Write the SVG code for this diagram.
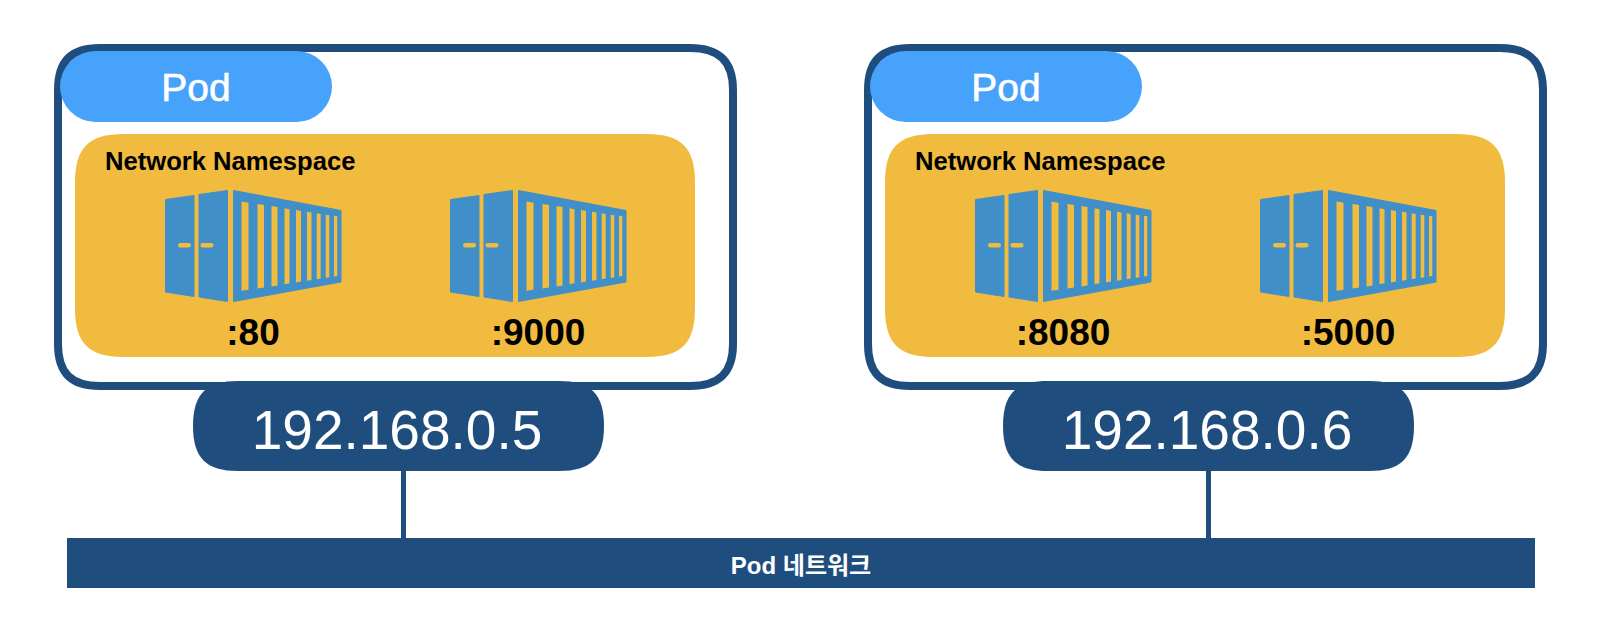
<svg xmlns="http://www.w3.org/2000/svg" xmlns:xlink="http://www.w3.org/1999/xlink" width="1602" height="630" viewBox="0 0 1602 630">
<style>
text{font-family:"Liberation Sans",Arial,"Noto Sans CJK KR",sans-serif}
.frame{fill:#fff;stroke:#1f4e7e;stroke-width:8}
.tag{fill:#46a2fb}
.ns{fill:#f0bb3e}
.ip{fill:#1f4e7e}
.pod{fill:#fff;stroke:#fff;stroke-width:.6;font-size:39px;text-anchor:middle}
.nsl{fill:#000;font-size:25.6px;font-weight:700}
.port{fill:#000;font-size:37px;font-weight:700;text-anchor:middle}
.addr{fill:#fff;font-size:55px;text-anchor:middle}
.link{stroke:#1f4e7e;stroke-width:5;fill:none}
.body{fill:#418fc9;stroke:#418fc9;stroke-width:1;stroke-linejoin:round}
.cut{fill:#f0bb3e}
</style>
<defs>
<g id="box">
<polygon class="body" points="15.5,24.5 44,20.5 44,121.5 15.5,117"/>
<polygon class="body" points="49,19.5 77.5,15.5 77.5,126.5 49,122"/>
<polygon class="body" points="83.5,15.5 191,35.5 191,107 83.5,126.5"/>
<g class="cut">
<rect x="28" y="68" width="13" height="4.6" rx="2.3"/><rect x="50.5" y="68" width="13" height="4.6" rx="2.3"/>
<polygon points="91.5,26.5 98.5,27.8 98.5,114.7 91.5,115.8"/>
<polygon points="107.5,29 114,30 114,112.5 107.5,113.5"/>
<polygon points="121.5,31 127.5,32 127.5,110.5 121.5,111.5"/>
<polygon points="134.5,33.3 139.5,34.3 139.5,108.3 134.5,109.3"/>
<polygon points="146,35 151,36 151,106.5 146,107.5"/>
<polygon points="157,36.7 161.5,37.5 161.5,105 157,105.8"/>
<polygon points="166.7,38.3 170.7,39 170.7,103.5 166.7,104.2"/>
<polygon points="175.7,39.7 179.3,40.3 179.3,102.3 175.7,102.9"/>
<polygon points="184,40.7 187.3,41.3 187.3,101 184,101.6"/>
</g>
</g>
<path id="frame-shape" d="M100 48H690C719 48 733 61 733 90V344C733 373 719 386 690 386H100C71 386 58 373 58 344V90C58 61 71 48 100 48Z"/>
<path id="ns-shape" d="M123 134H647C681 134 695 148 695 182V309C695 343 681 357 647 357H123C89 357 75 343 75 309V182C75 148 89 134 123 134Z"/>
<path id="ip-shape" d="M238 381H559C591 381 604 394 604 426C604 458 591 471 559 471H238C206 471 193 458 193 426C193 394 206 381 238 381Z"/>
</defs>
<g id="connectors">
<line class="link" x1="403.5" y1="470" x2="403.5" y2="539"/>
<line class="link" x1="1208.5" y1="470" x2="1208.5" y2="539"/>
</g>
<g id="pod-left">
<use href="#frame-shape" class="frame"/>
<rect class="tag" x="60" y="51" width="272" height="71" rx="35.5"/>
<text class="pod" x="196" y="101">Pod</text>
<use href="#ns-shape" class="ns"/>
<text class="nsl" x="105" y="170">Network Namespace</text>
<use href="#box" x="150" y="175"/>
<use href="#box" x="435" y="175"/>
<text class="port" x="253" y="345">:80</text>
<text class="port" x="538" y="345">:9000</text>
</g>
<g id="pod-right" transform="translate(810 0)">
<use href="#frame-shape" class="frame"/>
<rect class="tag" x="60" y="51" width="272" height="71" rx="35.5"/>
<text class="pod" x="196" y="101">Pod</text>
<use href="#ns-shape" class="ns"/>
<text class="nsl" x="105" y="170">Network Namespace</text>
<use href="#box" x="150" y="175"/>
<use href="#box" x="435" y="175"/>
<text class="port" x="253" y="345">:8080</text>
<text class="port" x="538" y="345">:5000</text>
</g>
<g id="ip-left">
<use href="#ip-shape" class="ip"/>
<text class="addr" x="397" y="449">192.168.0.5</text>
</g>
<g id="ip-right" transform="translate(810 0)">
<use href="#ip-shape" class="ip"/>
<text class="addr" x="397" y="449">192.168.0.6</text>
</g>
<g id="pod-network">
<rect class="ip" x="67" y="538" width="1468" height="50"/>
<text x="801" y="574" fill="#fff" font-size="24" font-weight="700" text-anchor="middle">Pod 네트워크</text>
</g>
</svg>
